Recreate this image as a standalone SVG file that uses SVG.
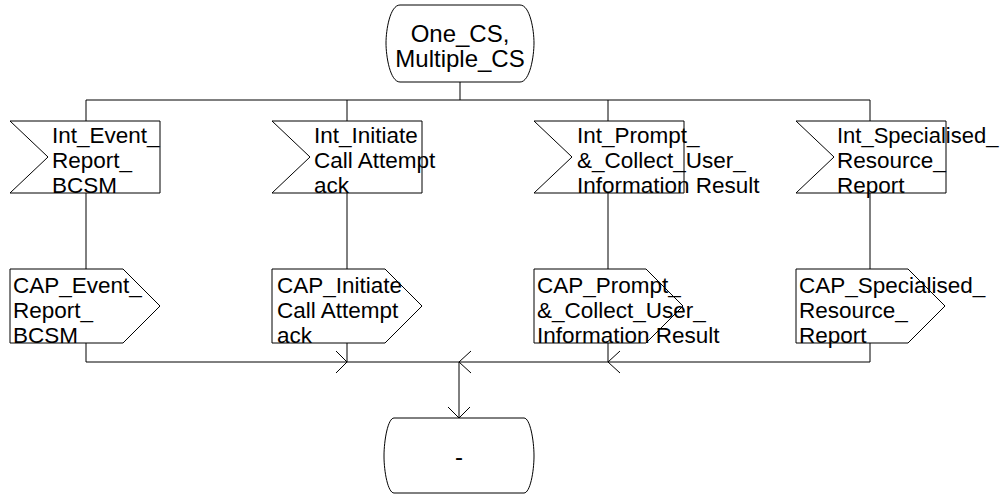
<svg xmlns="http://www.w3.org/2000/svg" width="1000" height="495" viewBox="0 0 1000 495">
<style>
.s{fill:#fff;stroke:#000;stroke-width:1}
.c{fill:none;stroke:#000;stroke-width:1}
.t{font-family:"Liberation Sans",Arial,sans-serif;font-size:22.5px;fill:#000}
.st{font-family:"Liberation Sans",Arial,sans-serif;font-size:24px;fill:#000;text-anchor:middle}
</style>
<rect width="1000" height="495" fill="#fff"/>
<g id="connectors">
<path class="c" d="M460,82V100M86,100H870M86,100V121M347,100V121M608,100V121M870,100V121"/>
<path class="c" d="M86,193V269M347,193V269M608,193V269M870,193V269"/>
<path class="c" d="M86,343V362M347,343V362M608,343V362M870,343V362M86,362H870M459,362V418"/>
<path class="c" d="M336,351L347,362L336,373M620,351L608,362L620,373M471,351L459,362L471,373M448,407L459,418L470,407"/>
</g>
<g id="start">
<path class="s" d="M400,5H520C530,5 534,30 534,43C534,56 530,82 520,82H400C390,82 386,56 386,43C386,30 390,5 400,5Z"/>
<text class="st" x="460" y="42">One_CS,</text>
<text class="st" x="460" y="67">Multiple_CS</text>
</g>
<g id="in1">
<path class="s" d="M10,121H160V193H10L48,157Z"/>
<text class="t" x="52" y="143">Int_Event_</text>
<text class="t" x="52" y="168">Report_</text>
<text class="t" x="52" y="193">BCSM</text>
</g>
<g id="in2">
<path class="s" d="M272,121H422V193H272L310,157Z"/>
<text class="t" x="314" y="143">Int_Initiate</text>
<text class="t" x="314" y="168">Call Attempt</text>
<text class="t" x="314" y="193">ack</text>
</g>
<g id="in3">
<path class="s" d="M534,121H684V193H534L572,157Z"/>
<text class="t" x="577" y="143">Int_Prompt_</text>
<text class="t" x="577" y="168">&amp;_Collect_User_</text>
<text class="t" x="577" y="193">Information Result</text>
</g>
<g id="in4">
<path class="s" d="M796,121H946V193H796L834,157Z"/>
<text class="t" x="837" y="143" style="font-size:22px">Int_Specialised_</text>
<text class="t" x="837" y="168">Resource_</text>
<text class="t" x="837" y="193">Report</text>
</g>
<g id="out1">
<path class="s" d="M10,269H123L160,306L123,343H10Z"/>
<text class="t" x="13" y="293">CAP_Event_</text>
<text class="t" x="13" y="318">Report_</text>
<text class="t" x="13" y="343">BCSM</text>
</g>
<g id="out2">
<path class="s" d="M272,269H385L422,306L385,343H272Z"/>
<text class="t" x="277" y="293">CAP_Initiate</text>
<text class="t" x="277" y="318">Call Attempt</text>
<text class="t" x="277" y="343">ack</text>
</g>
<g id="out3">
<path class="s" d="M534,269H646L683,306L646,343H534Z"/>
<text class="t" x="537" y="293">CAP_Prompt_</text>
<text class="t" x="537" y="318">&amp;_Collect_User_</text>
<text class="t" x="537" y="343">Information Result</text>
</g>
<g id="out4">
<path class="s" d="M796,269H908L945,306L908,343H796Z"/>
<text class="t" x="799" y="293">CAP_Specialised_</text>
<text class="t" x="799" y="318">Resource_</text>
<text class="t" x="799" y="343">Report</text>
</g>
<g id="end">
<path class="s" d="M394,418H524C530,418 534,440 534,456C534,472 530,493 524,493H394C388,493 384,472 384,456C384,440 388,418 394,418Z"/>
<text class="st" x="459" y="465">-</text>
</g>
</svg>
